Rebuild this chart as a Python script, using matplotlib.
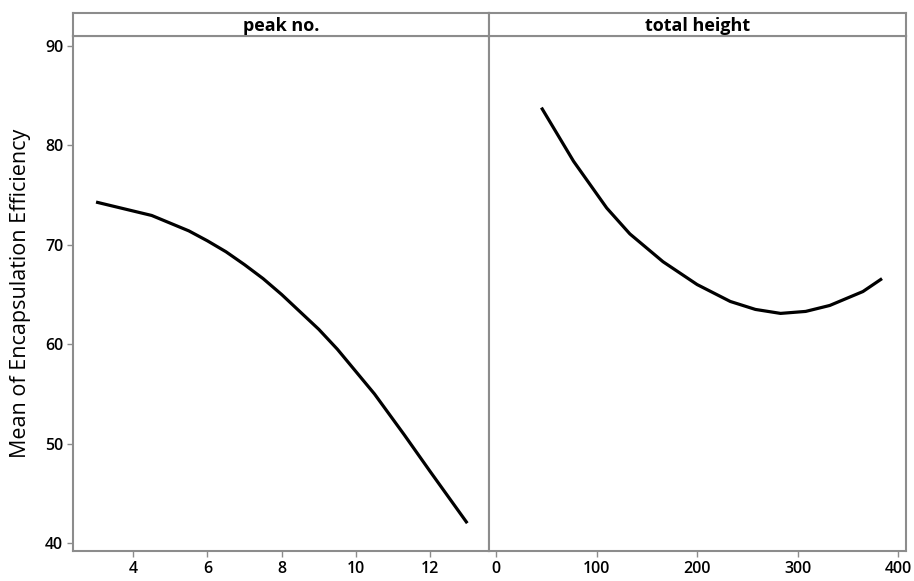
import matplotlib.pyplot as plt
import numpy as np

plt.rcParams['font.family'] = ['Open Sans', 'DejaVu Sans']

# data
peak_x = [3, 4, 4.5, 5.5, 6, 6.5, 7, 7.5, 8, 9, 9.5, 10.5, 11.3, 12, 13]
peak_y = [74.3, 73.4, 72.95, 71.4, 70.4, 69.3, 68.0, 66.6, 65.0, 61.5, 59.5,
          55.0, 50.9, 47.2, 42.0]

height_x = [45, 77, 110, 133, 166, 200, 233, 258, 283, 308, 332, 365, 384]
height_y = [83.8, 78.4, 73.7, 71.1, 68.3, 66.0, 64.3, 63.5, 63.1, 63.3,
            63.9, 65.3, 66.6]

panel_titles = ["peak no.", "total height"]
ylabel = "Mean of Encapsulation Efficiency"

gray = "#8c8c8c"

fig = plt.figure(figsize=(9.14, 5.81), dpi=100)
ax1 = fig.add_axes([0.0799, 0.0516, 0.4553, 0.8864])
ax2 = fig.add_axes([0.5352, 0.0516, 0.4562, 0.8864], sharey=ax1)

ax1.plot(peak_x, peak_y, color="black", lw=2.3, solid_capstyle="butt")
ax2.plot(height_x, height_y, color="black", lw=2.3, solid_capstyle="butt")

ax1.set_xlim(2.38, 13.59)
ax2.set_xlim(-7, 408)
ax1.set_ylim(39.2, 91.0)
ax1.set_xticks([4, 6, 8, 10, 12])
ax2.set_xticks([0, 100, 200, 300, 400])
ax1.set_yticks([40, 50, 60, 70, 80, 90])

for ax in (ax1, ax2):
    for s in ax.spines.values():
        s.set_color(gray)
        s.set_linewidth(1.5)
    ax.tick_params(color=gray, length=4, width=1, direction="out",
                   labelsize=11.5, pad=3)
    for lab in ax.get_xticklabels() + ax.get_yticklabels():
        lab.set_fontweight("semibold")
ax2.tick_params(axis="y", left=False, labelleft=False)

ax1.set_ylabel(ylabel, fontsize=15.5, labelpad=10)

# strip headers
for ax, title in zip((ax1, ax2), panel_titles):
    pos = ax.get_position()
    strip = fig.add_axes([pos.x0, pos.y1, pos.width, 0.0396])
    strip.set_xticks([])
    strip.set_yticks([])
    for s in strip.spines.values():
        s.set_color(gray)
        s.set_linewidth(1.5)
    strip.text(0.5, 0.45, title, ha="center", va="center",
               fontsize=13, fontweight="bold", transform=strip.transAxes)

fig.savefig("out.png", dpi=100)
